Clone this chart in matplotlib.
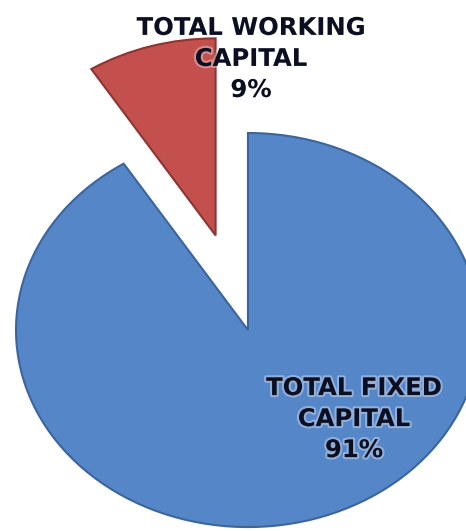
import matplotlib.pyplot as plt
import matplotlib.patheffects as pe

# data
labels = ['TOTAL FIXED\nCAPITAL', 'TOTAL WORKING\nCAPITAL']
shares = [91, 9]
colors = ['#5586C8', '#C4504D']
edges = ['#3C659C', '#8E3432']

fig = plt.figure(figsize=(4.66, 5.31), dpi=100)
ax = fig.add_axes([0, 0, 1, 1])

wedges, _ = ax.pie(shares, colors=colors, startangle=90, counterclock=False,
                   explode=[0, 0.5], radius=1,
                   wedgeprops=dict(linewidth=1.5))
for w, ec in zip(wedges, edges):
    w.set_edgecolor(ec)

# stretched (elliptical) look as in the reference
ax.set_aspect('auto')
ax.set_xlim(-1.069, 0.940)
ax.set_ylim(-1.020, 1.675)
ax.axis('off')

glow = [pe.withStroke(linewidth=3, foreground='white', alpha=0.35)]
txt_pos = [(0.457, -0.452), (0.013, 1.376)]
for lab, v, (x, y) in zip(labels, shares, txt_pos):
    ax.text(x, y, f'{lab}\n{v}%', ha='center', va='center',
            fontsize=17.5, fontweight='bold', color='#0c0f22',
            linespacing=1.37, path_effects=glow)

plt.savefig('out.png', dpi=100)
